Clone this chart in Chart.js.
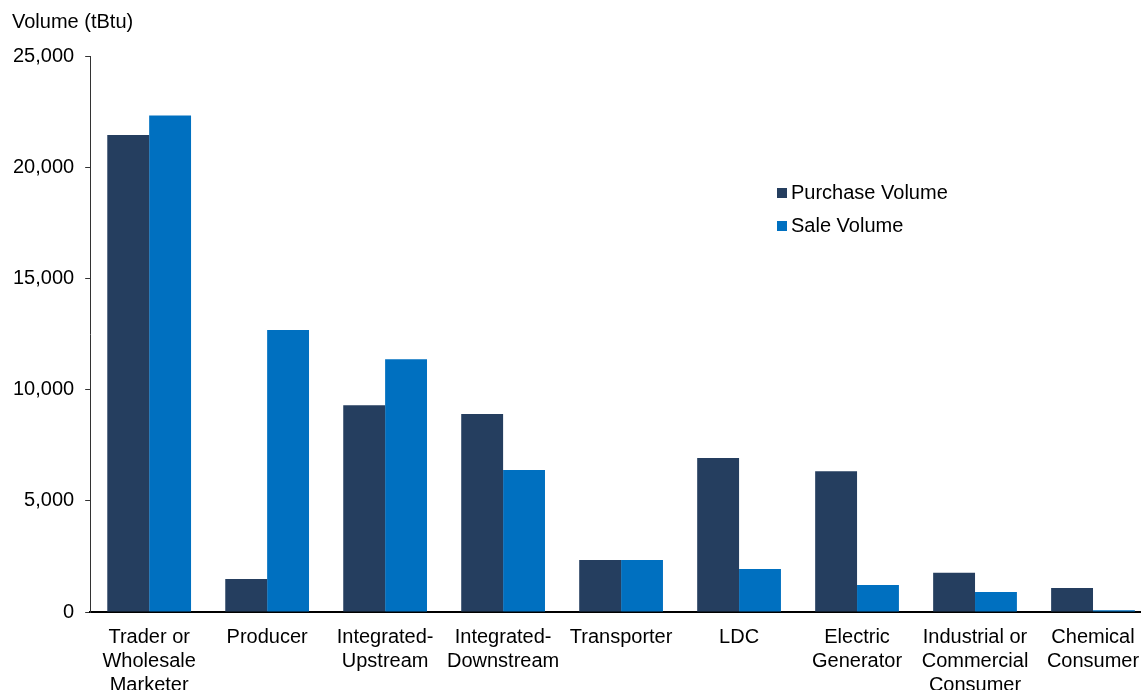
<!DOCTYPE html>
<html>
<head>
<meta charset="utf-8">
<script src="https://cdn.jsdelivr.net/npm/chart.js@4/dist/chart.umd.min.js"></script>
<style>
  html, body { margin: 0; padding: 0; background: #fff; overflow: hidden; }
  #wrap { width: 1152px; height: 702px; }
</style>
</head>
<body>
<div id="wrap"><canvas id="volChart" width="1152" height="702"></canvas></div>
<script>
// data
const categories = [
  ["Trader or", "Wholesale", "Marketer"],
  "Producer",
  ["Integrated-", "Upstream"],
  ["Integrated-", "Downstream"],
  "Transporter",
  "LDC",
  ["Electric", "Generator"],
  ["Industrial or", "Commercial", "Consumer"],
  ["Chemical", "Consumer"]
];
const purchase_volume = [21450, 1480, 9300, 8900, 2340, 6920, 6330, 1760, 1080];
const sale_volume = [22330, 12680, 11370, 6380, 2340, 1930, 1210, 900, 80];
const y_ticks = [0, 5000, 10000, 15000, 20000, 25000];
const y_title = 'Volume (tBtu)';

const font_family = "'Liberation Sans', Arial, sans-serif";
const font_size = 20;

// axis title top-left and legend inside the plot area
const extras = {
  id: 'extras',
  afterDraw(chart) {
    const ctx = chart.ctx;
    ctx.save();
    ctx.font = font_size + "px " + font_family;
    ctx.textBaseline = 'middle';
    ctx.fillStyle = '#000';
    ctx.fillText(y_title, 12, 22);

    let y = 193;
    chart.data.datasets.forEach(ds => {
      ctx.fillStyle = ds.backgroundColor;
      ctx.fillRect(777, y - 5, 10, 10);
      ctx.fillStyle = '#000';
      ctx.fillText(ds.label, 791, y);
      y += 33;
    });
    ctx.restore();
  }
};

const ctx = document.getElementById("volChart").getContext('2d');
new Chart(ctx, {
  type: 'bar',
  data: {
    labels: categories,
    datasets: [{
      label: 'Purchase Volume',
      data: purchase_volume,
      backgroundColor: '#253E5F'
    }, {
      label: 'Sale Volume',
      data: sale_volume,
      backgroundColor: '#0070C0'
    }]
  },
  options: {
    responsive: false,
    animation: false,
    layout: { padding: { left: 2, right: 0, top: 56, bottom: 0 } },
    datasets: {
      bar: { categoryPercentage: 0.71, barPercentage: 1.0 }
    },
    plugins: {
      legend: { display: false },
      tooltip: { enabled: false },
      title: { display: false }
    },
    scales: {
      x: {
        grid: { display: false },
        border: { display: true, color: '#000', width: 2 },
        ticks: {
          color: '#000',
          font: { family: font_family, size: font_size, lineHeight: 1.2 },
          padding: 5,
          maxRotation: 0,
          autoSkip: false
        }
      },
      y: {
        min: 0,
        max: 25000,
        afterBuildTicks: axis => { axis.ticks = y_ticks.map(v => ({ value: v })); },
        grid: { drawOnChartArea: false, tickLength: 5, tickColor: '#333' },
        border: { display: true, color: '#333', width: 1 },
        ticks: {
          color: '#000',
          font: { family: font_family, size: font_size },
          padding: 11,
          callback: v => v.toLocaleString('en-US')
        }
      }
    }
  },
  plugins: [extras]
});
</script>
</body>
</html>
